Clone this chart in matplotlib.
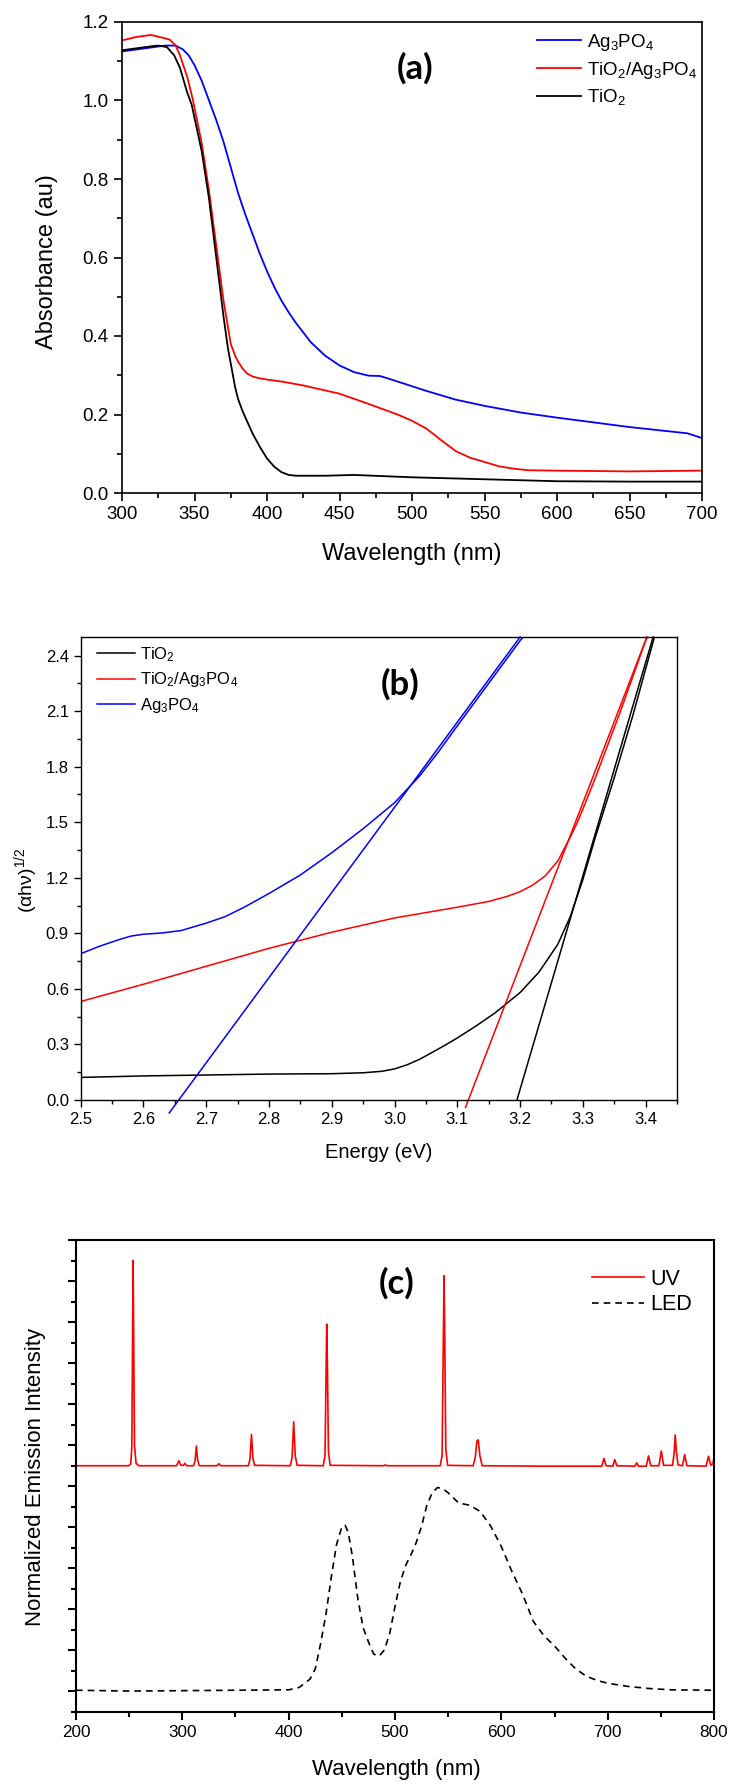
import matplotlib
matplotlib.use("Agg")
import matplotlib.pyplot as plt
from matplotlib.ticker import MultipleLocator, NullFormatter, FormatStrFormatter

plt.rcParams['font.family'] = ['Liberation Sans', 'DejaVu Sans']
plt.rcParams['mathtext.default'] = 'regular'

# ---------------- Panel (a) data ----------------
wl_ag = [300, 310, 320, 330, 337, 342, 346, 350, 355, 360, 365, 370, 375, 380, 385, 390, 395, 400,
         405, 410, 415, 420, 430, 440, 450, 460, 470, 478, 485, 490, 500, 510, 520, 530, 540, 550,
         575, 600, 625, 650, 675, 690, 700]
abs_ag = [1.125, 1.13, 1.135, 1.14, 1.14, 1.13, 1.115, 1.09, 1.05, 1.0, 0.95, 0.895, 0.83, 0.765,
          0.71, 0.66, 0.61, 0.565, 0.525, 0.49, 0.46, 0.433, 0.385, 0.35, 0.325, 0.308, 0.299, 0.298,
          0.29, 0.284, 0.272, 0.26, 0.249, 0.238, 0.23, 0.222, 0.205, 0.192, 0.18, 0.168, 0.158,
          0.152, 0.14]

wl_comp = [300, 310, 320, 328, 333, 337, 340, 345, 349, 355, 360, 365, 370, 375, 378, 380, 383, 386,
           390, 395, 400, 410, 425, 450, 470, 490, 500, 510, 520, 530, 540, 550, 560, 570, 580, 600,
           650, 700]
abs_comp = [1.153, 1.162, 1.167, 1.16, 1.155, 1.14, 1.115, 1.06, 1.0, 0.89, 0.77, 0.63, 0.49, 0.38,
            0.35, 0.335, 0.318, 0.305, 0.297, 0.292, 0.289, 0.284, 0.274, 0.253, 0.227, 0.20, 0.184,
            0.164, 0.135, 0.107, 0.09, 0.079, 0.068, 0.062, 0.058, 0.057, 0.055, 0.057]

wl_tio2 = [300, 310, 320, 325, 331, 336, 340, 345, 348, 355, 360, 365, 370, 373, 376, 378, 380, 383,
           386, 390, 395, 400, 405, 410, 415, 420, 440, 460, 480, 500, 550, 600, 650, 700]
abs_tio2 = [1.128, 1.133, 1.138, 1.14, 1.136, 1.115, 1.083, 1.02, 0.99, 0.87, 0.75, 0.60, 0.45, 0.37,
            0.31, 0.27, 0.24, 0.21, 0.185, 0.152, 0.118, 0.088, 0.067, 0.053, 0.046, 0.044, 0.044,
            0.046, 0.043, 0.040, 0.035, 0.030, 0.029, 0.029]

# ---------------- Panel (b) data ----------------
e_ag = [2.5, 2.53, 2.56, 2.58, 2.6, 2.63, 2.66, 2.7, 2.73, 2.76, 2.8, 2.85, 2.9, 2.95, 3.0, 3.04,
        3.07, 3.1, 3.15, 3.2, 3.205]
t_ag = [0.79, 0.83, 0.865, 0.885, 0.895, 0.902, 0.915, 0.955, 0.99, 1.04, 1.115, 1.215, 1.335, 1.465,
        1.605, 1.75, 1.88, 2.02, 2.25, 2.48, 2.5]

e_comp = [2.5, 2.6, 2.7, 2.8, 2.9, 3.0, 3.1, 3.15, 3.18, 3.2, 3.22, 3.24, 3.26, 3.28, 3.29, 3.3, 3.32,
          3.34, 3.36, 3.38, 3.40, 3.403]
t_comp = [0.532, 0.625, 0.722, 0.819, 0.906, 0.983, 1.041, 1.072, 1.10, 1.125, 1.16, 1.21, 1.29, 1.42,
          1.49, 1.57, 1.74, 1.92, 2.10, 2.29, 2.48, 2.5]

e_tio2 = [2.5, 2.6, 2.7, 2.8, 2.9, 2.95, 2.98, 3.0, 3.02, 3.04, 3.06, 3.08, 3.1, 3.13, 3.16, 3.2,
          3.23, 3.26, 3.28, 3.3, 3.32, 3.35, 3.38, 3.41, 3.414]
t_tio2 = [0.122, 0.13, 0.135, 0.14, 0.142, 0.147, 0.155, 0.168, 0.19, 0.22, 0.257, 0.295, 0.335, 0.40,
          0.47, 0.58, 0.69, 0.84, 0.99, 1.19, 1.42, 1.74, 2.08, 2.45, 2.5]

fit_e_ag = [2.641, 3.20]
fit_t_ag = [-0.07, 2.50]
fit_e_comp = [3.113, 3.402]
fit_t_comp = [-0.04, 2.50]
fit_e_tio2 = [3.195, 3.412]
fit_t_tio2 = [0.0, 2.50]

# ---------------- Panel (c) data ----------------
uv_wl = [200, 249.5, 251.5, 252.5, 253.2, 253.7, 254.2, 255.0, 256.5, 259,
         294.5, 296.7, 298.5, 301, 302.5, 304,
         310.5, 312, 313.2, 314.4, 316,
         332.5, 334.2, 336,
         362, 363.6, 365, 366.4, 368,
         401.5, 403.2, 404.7, 406.2, 408,
         432.5, 434.2, 435.1, 435.8, 436.5, 437.4, 439,
         489.5, 491, 492.5,
         542.5, 544.3, 545.4, 546.1, 546.8, 547.8, 549.5,
         573.5, 575.5, 577, 578.3, 579.8, 582,
         640, 694.5, 696.5, 698.5, 704.8, 706.7, 708.6,
         725.5, 727.3, 729, 736.3, 738.4, 740.5, 748.2, 750.4, 752.6,
         761, 762.5, 763.5, 764.6, 766.2, 770.3, 772.4, 774.5,
         792.5, 794.8, 797, 799, 800]
uv_int = [5.50, 5.50, 5.55, 5.95, 8.6, 10.50, 8.8, 6.0, 5.56, 5.50,
          5.50, 5.62, 5.51, 5.51, 5.56, 5.50,
          5.50, 5.62, 5.98, 5.64, 5.50,
          5.50, 5.55, 5.50,
          5.50, 5.65, 6.26, 5.68, 5.51,
          5.50, 5.70, 6.57, 5.74, 5.51,
          5.50, 5.75, 7.6, 8.95, 7.8, 5.85, 5.51,
          5.50, 5.52, 5.50,
          5.50, 5.75, 8.4, 10.13, 8.6, 5.9, 5.51,
          5.50, 5.70, 6.10, 6.13, 5.75, 5.50,
          5.49, 5.49, 5.68, 5.50, 5.49, 5.65, 5.50,
          5.49, 5.57, 5.49, 5.49, 5.74, 5.50, 5.50, 5.86, 5.51,
          5.51, 5.8, 6.25, 5.85, 5.52, 5.50, 5.77, 5.50,
          5.49, 5.73, 5.51, 5.55, 5.70]

led_wl = [200, 250, 300, 350, 400, 410, 420, 425, 430, 435, 440, 445, 450, 453, 456, 460, 465, 470,
          475, 480, 485, 490, 495, 500, 505, 510, 515, 520, 525, 530, 535, 540, 545, 550, 560, 570,
          580, 590, 600, 610, 620, 630, 640, 650, 660, 670, 680, 690, 700, 720, 740, 760, 800]
led_int = [0.03, 0.01, 0.02, 0.03, 0.04, 0.1, 0.3, 0.55, 1.16, 1.87, 2.77, 3.58, 4.01, 4.05, 3.88,
           3.28, 2.27, 1.56, 1.21, 0.91, 0.86, 1.01, 1.41, 2.07, 2.67, 3.07, 3.33, 3.63, 4.03, 4.54,
           4.84, 4.97, 4.94, 4.84, 4.59, 4.54, 4.39, 4.03, 3.53, 2.92, 2.37, 1.71, 1.36, 1.11, 0.81,
           0.55, 0.37, 0.27, 0.2, 0.12, 0.07, 0.04, 0.03]

W, H = 743, 1787
fig = plt.figure(figsize=(W / 100, H / 100), dpi=100)


def rect(l, t, r, b):
    return [l / W, 1 - b / H, (r - l) / W, (b - t) / H]


def ftext(x, y, s, **kw):
    fig.text(x / W, 1 - y / H, s, ha='center', va='center', **kw)


def style(ax, lw, fs, maj, mino):
    for sp in ax.spines.values():
        sp.set_linewidth(lw)
    ax.tick_params(which='major', direction='out', length=maj, width=lw, labelsize=fs,
                   top=False, right=False)
    ax.tick_params(which='minor', direction='out', length=mino, width=lw, top=False, right=False)


# ---------------- Panel (a) ----------------
axa = fig.add_axes(rect(122, 22, 702, 493))
axa.plot(wl_ag, abs_ag, color='#0000ff', lw=1.3, label='Ag$_3$PO$_4$')
axa.plot(wl_comp, abs_comp, color='#ff0000', lw=1.3, label='TiO$_2$/Ag$_3$PO$_4$')
axa.plot(wl_tio2, abs_tio2, color='black', lw=1.3, label='TiO$_2$')
axa.set_xlim(300, 700)
axa.set_ylim(0, 1.2)
axa.xaxis.set_major_locator(MultipleLocator(50))
axa.xaxis.set_minor_locator(MultipleLocator(25))
axa.yaxis.set_major_locator(MultipleLocator(0.2))
axa.yaxis.set_minor_locator(MultipleLocator(0.1))
axa.yaxis.set_major_formatter(FormatStrFormatter('%.1f'))
style(axa, 1.2, 13.5, 6, 3.5)
axa.legend(loc='upper left', bbox_to_anchor=((537 - 122) / 580, 1 - (32 - 22) / 471),
           frameon=False, fontsize=13.5, handlelength=2.35, handletextpad=0.3,
           labelspacing=0.35, borderpad=0, borderaxespad=0)
ftext(412, 554, 'Wavelength (nm)', fontsize=17)
ftext(47, 262, 'Absorbance (au)', fontsize=17, rotation=90)
ftext(415, 68, '(a)', fontsize=25, fontweight='bold', family=['Lato', 'DejaVu Sans'])

# ---------------- Panel (b) ----------------
axb = fig.add_axes(rect(80.7, 637, 677, 1100))
axb.plot(e_tio2, t_tio2, color='black', lw=1.1, label='TiO$_2$')
axb.plot(e_comp, t_comp, color='#ff0000', lw=1.1, label='TiO$_2$/Ag$_3$PO$_4$')
axb.plot(e_ag, t_ag, color='#0000ff', lw=1.1, label='Ag$_3$PO$_4$')
axb.plot(fit_e_ag, fit_t_ag, color='#0000ff', lw=1.1, clip_on=False)
axb.plot(fit_e_comp, fit_t_comp, color='#ff0000', lw=1.1, clip_on=False)
axb.plot(fit_e_tio2, fit_t_tio2, color='black', lw=1.1, clip_on=False)
axb.set_xlim(2.5, 3.45)
axb.set_ylim(0, 2.5)
axb.xaxis.set_major_locator(MultipleLocator(0.1))
axb.xaxis.set_minor_locator(MultipleLocator(0.05))
axb.yaxis.set_major_locator(MultipleLocator(0.3))
axb.yaxis.set_minor_locator(MultipleLocator(0.15))
axb.yaxis.set_major_formatter(FormatStrFormatter('%.1f'))
axb.xaxis.set_major_formatter(FormatStrFormatter('%.1f'))
style(axb, 1.0, 12, 5, 3)
axb.legend(loc='upper left', bbox_to_anchor=((97 - 80.7) / 596.3, 1 - (645 - 637) / 463),
           frameon=False, fontsize=12, handlelength=2.3, handletextpad=0.3,
           labelspacing=0.4, borderpad=0, borderaxespad=0)
ftext(379, 1152, 'Energy (eV)', fontsize=14.5)
ftext(26, 880, r'(αhν)$^{1/2}$', fontsize=14, rotation=90)
ftext(400, 684, '(b)', fontsize=25, fontweight='bold', family=['Lato', 'DejaVu Sans'])

# ---------------- Panel (c) ----------------
axc = fig.add_axes(rect(76, 1240, 714, 1712))
axc.plot(uv_wl, uv_int, color='#ff0000', lw=1.2, label='UV')
axc.plot(led_wl, led_int, color='black', lw=1.2, ls=(0, (4, 3)), label='LED')
axc.set_xlim(200, 800)
axc.set_ylim(-0.5, 11.0)
axc.xaxis.set_major_locator(MultipleLocator(100))
axc.xaxis.set_minor_locator(MultipleLocator(50))
axc.yaxis.set_major_locator(MultipleLocator(1))
axc.yaxis.set_minor_locator(MultipleLocator(0.5))
axc.yaxis.set_major_formatter(NullFormatter())
style(axc, 1.5, 12.3, 6, 3.5)
axc.legend(loc='upper left', bbox_to_anchor=((592 - 76) / 638, 1 - (1269 - 1240) / 472),
           frameon=False, fontsize=15.5, handlelength=2.4, handletextpad=0.3,
           labelspacing=0.2, borderpad=0, borderaxespad=0)
ftext(396, 1769, 'Wavelength (nm)', fontsize=16)
ftext(35.5, 1477, 'Normalized Emission Intensity', fontsize=16, rotation=90)
ftext(397, 1283, '(c)', fontsize=25, fontweight='bold', family=['Lato', 'DejaVu Sans'])

fig.savefig('out.png', dpi=100)
